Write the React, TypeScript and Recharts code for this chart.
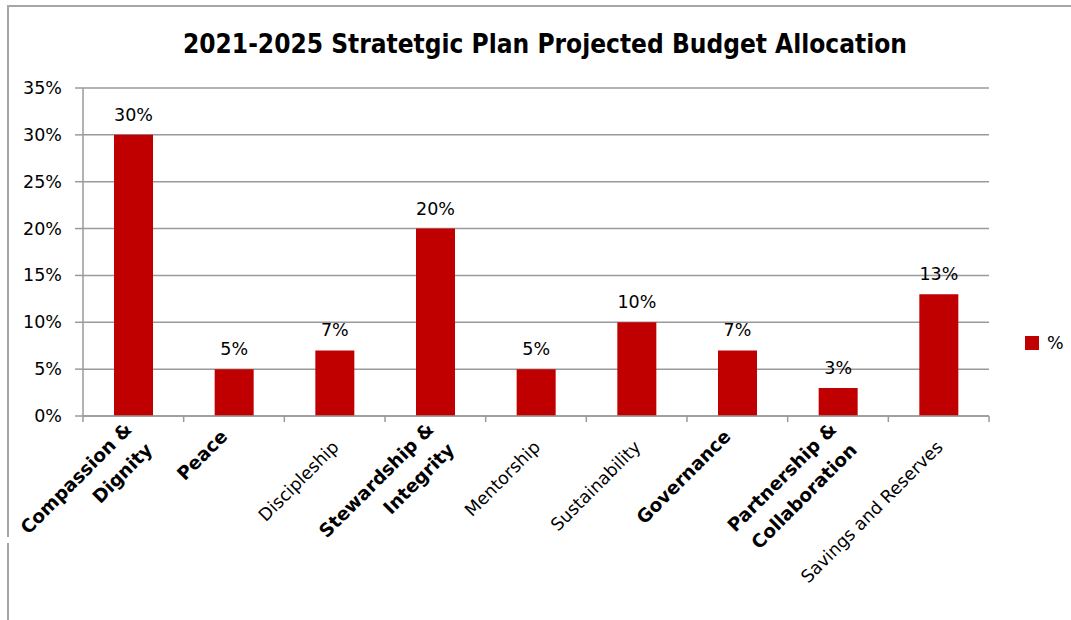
import React from 'react';
import { BarChart, Bar, XAxis, YAxis, CartesianGrid, LabelList, Legend } from 'recharts';

// ---- data ----
const categories = [
  'Compassion & Dignity',
  'Peace',
  'Discipleship',
  'Stewardship & Integrity',
  'Mentorship',
  'Sustainability',
  'Governance',
  'Partnership & Collaboration',
  'Savings and Reserves',
];
const labelLines = [
  ['Compassion &', 'Dignity'],
  ['Peace'],
  ['Discipleship'],
  ['Stewardship &', 'Integrity'],
  ['Mentorship'],
  ['Sustainability'],
  ['Governance'],
  ['Partnership &', 'Collaboration'],
  ['Savings and Reserves'],
];
const boldFlags = [true, true, false, true, false, false, true, true, false];
const percentValues = [30, 5, 7, 20, 5, 10, 7, 3, 13];
const yTicks = [0, 5, 10, 15, 20, 25, 30, 35];
const seriesName = '%';
const chartTitle = '2021-2025 Stratetgic Plan Projected Budget Allocation';

const data = categories.map((name, i) => ({ name, value: percentValues[i] }));

// ---- style ----
const FONT = '"DejaVu Sans", sans-serif';
const GRID = '#9a9a9a';
const BAR = '#C00000';
const FS = 17.5;
const FS_BOLD = 18.5;
const LH = 29;
const R = Math.SQRT1_2;

const rot = (dx: number, dy: number) => ({ u: R * (dx - dy), v: R * (dx + dy) });

const XTick = (props: any) => {
  const { x, y, payload } = props;
  const i = categories.indexOf(payload.value);
  const lines = labelLines[i] || [String(payload.value)];
  const bold = boldFlags[i];
  const off = payload.offset ?? 0;
  let p;
  if (lines.length > 1) p = rot(-5, 10);
  else if (bold) p = rot(-10, 17);
  else p = rot(1, 28);
  return (
    <g>
      <line x1={x - off} x2={x - off} y1={y} y2={y + 6} stroke={GRID} strokeWidth={1.5} />
      {i === categories.length - 1 && (
        <line x1={x + off} x2={x + off} y1={y} y2={y + 6} stroke={GRID} strokeWidth={1.5} />
      )}
      <g transform={`translate(${x},${y}) rotate(-45)`}>
        {lines.map((ln, k) => (
          <text
            key={k}
            x={p.u}
            y={p.v + k * LH}
            textAnchor="end"
            dominantBaseline="central"
            fontFamily={FONT}
            fontSize={bold ? FS_BOLD : FS}
            fontWeight={bold ? 'bold' : 'normal'}
            fill="#000"
          >
            {ln}
          </text>
        ))}
      </g>
    </g>
  );
};

const YTick = (props: any) => {
  const { x, y, payload } = props;
  return (
    <text x={x} y={y} dy={6} textAnchor="end" fontFamily={FONT} fontSize={FS} fill="#000">
      {`${payload.value}%`}
    </text>
  );
};

const LegendContent = () => (
  <div style={{ width: 76, display: 'flex', alignItems: 'center', paddingLeft: 36, boxSizing: 'border-box' }}>
    <div style={{ width: 14, height: 14, background: BAR, marginRight: 8 }} />
    <span style={{ fontFamily: FONT, fontSize: FS, color: '#000', lineHeight: '20px' }}>{seriesName}</span>
  </div>
);

export default function App() {
  return (
    <div style={{ position: 'absolute', left: 0, top: 0, width: 1071, height: 620, background: '#fff', overflow: 'hidden' }}>
      <div style={{ position: 'absolute', left: 7, top: 5, width: 1100, height: 700, borderTop: `2px solid #a6a6a6`, borderLeft: `2px solid #a6a6a6` }} />
      <div style={{ position: 'absolute', left: 5, top: 537, width: 6, height: 6, background: '#fff' }} />
      <svg width={1071} height={70} style={{ position: 'absolute', left: 0, top: 0 }}>
        <text x={545} y={53} textAnchor="middle" fontFamily={FONT} fontWeight="bold" fontSize={26} textLength={724} lengthAdjust="spacingAndGlyphs" fill="#000">
          {chartTitle}
        </text>
      </svg>
      <div style={{ position: 'absolute', left: 0, top: 0 }}>
        <BarChart width={1071} height={620} data={data} margin={{ top: 88, right: 6, bottom: 0, left: 0 }}>
          <CartesianGrid vertical={false} stroke={GRID} strokeWidth={1.5} />
          <XAxis
            dataKey="name"
            height={204}
            interval={0}
            tickLine={false}
            tickSize={0}
            tickMargin={0}
            axisLine={{ stroke: GRID, strokeWidth: 1.5 }}
            tick={<XTick />}
          />
          <YAxis
            width={83}
            domain={[0, 35]}
            ticks={yTicks}
            interval={0}
            tickSize={8}
            tickMargin={13}
            tickLine={{ stroke: GRID, strokeWidth: 1.5 }}
            axisLine={{ stroke: GRID, strokeWidth: 1.5 }}
            tick={<YTick />}
          />
          <Legend layout="vertical" align="right" verticalAlign="middle" content={<LegendContent />} wrapperStyle={{ top: 333 }} />
          <Bar dataKey="value" name={seriesName} fill={BAR} barSize={39} isAnimationActive={false}>
            <LabelList
              dataKey="value"
              position="top"
              offset={14}
              formatter={(v: any) => `${v}%`}
              style={{ fontFamily: FONT, fontSize: FS, fill: '#000' }}
            />
          </Bar>
        </BarChart>
      </div>
    </div>
  );
}
